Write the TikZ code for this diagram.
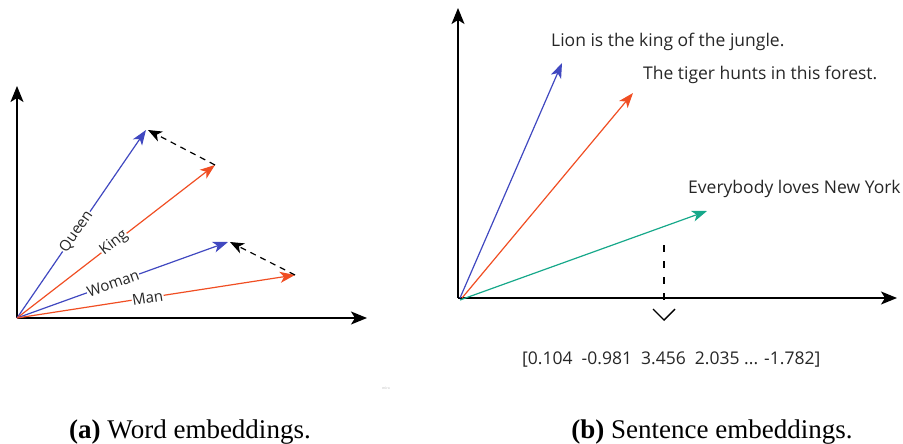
\documentclass[tikz,border=0pt]{standalone}
\usepackage{fontspec}
\setmainfont{Open Sans}
\newfontfamily\capfont{Liberation Serif}
\usetikzlibrary{arrows.meta}
\definecolor{vecblue}{RGB}{64,72,192}
\definecolor{vecred}{RGB}{240,78,35}
\definecolor{vecgreen}{RGB}{22,168,138}
\tikzset{
  axis/.style={line width=1.6pt,-{Stealth[length=16pt,width=13pt,inset=4pt]}},
  vec/.style={line width=1.2pt,-{Stealth[length=15pt,width=11pt,inset=4pt]}},
  diff/.style={line width=1.2pt,dash pattern=on 6pt off 5pt,-{Stealth[length=14pt,width=11pt,inset=4pt]}},
  wordlabel/.style={sloped,fill=white,inner sep=0.6pt,font=\fontsize{15}{15}\selectfont,text=black!85},
  sentence/.style={font=\fontsize{17.5}{18}\selectfont,text=black!85,inner sep=0pt},
  caption/.style={font=\capfont\fontsize{27}{27}\selectfont,inner sep=0pt}
}
\begin{document}
\begin{tikzpicture}[x=1pt,y=-1pt]
\useasboundingbox (0,0) rectangle (903,444);

% ---------- (a) word embeddings ----------
\coordinate (oa) at (17,318);
\coordinate (ya) at (17,86);
\coordinate (xa) at (367,318);
\coordinate (queen) at (146,130);
\coordinate (king) at (215,165);
\coordinate (woman) at (228,242);
\coordinate (man) at (295,275);

\draw[axis] (oa) -- (ya);
\draw[axis] (oa) -- (xa);

\draw[vec,vecblue] (oa) -- node[wordlabel,pos=0.46] (lqueen) {Queen} (queen);
\draw[vec,vecred] (oa) -- node[wordlabel,pos=0.49] (lking) {King} (king);
\draw[vec,vecblue] (oa) -- node[wordlabel,pos=0.455] (lwoman) {Woman} (woman);
\draw[vec,vecred] (oa) -- node[wordlabel,pos=0.47] (lman) {Man} (man);

\draw[diff] (king) -- ([xshift=2pt]queen);
\draw[diff] (man) -- ([xshift=2pt]woman);

\node[font=\sffamily\fontsize{4}{4}\selectfont,text=black!25] (wm) at (386,388) {miro};

% ---------- (b) sentence embeddings ----------
\coordinate (ob) at (458,298);
\coordinate (yb) at (458,8);
\coordinate (xb) at (897,298);
\coordinate (lion) at (562,63);
\coordinate (tiger) at (633,93);
\coordinate (york) at (707,211);

\draw[axis] (ob) -- (yb);
\draw[axis] (ob) -- (xb);

\draw[vec,vecblue] ([xshift=2pt]ob) -- (lion);
\draw[vec,vecred] ([xshift=4pt]ob) -- (tiger);
\draw[vec,vecgreen] ([xshift=2pt,yshift=-2pt]ob) -- (york);

\node[sentence,anchor=base west] (tlion) at (551,47) {Lion is the king of the jungle.};
\node[sentence,anchor=base west] (ttiger) at (643,80) {The tiger hunts in this forest.};
\node[sentence,anchor=base west] (tyork) at (688,193) {Everybody loves New York};

\coordinate (ptop) at (664,245);
\coordinate (ptip) at (664,321);
\draw[line width=1.2pt,dash pattern=on 7pt off 9pt on 7pt off 9pt on 7pt off 9pt on 7pt off 40pt,
      -{Straight Barb[length=11pt,width=22pt,line width=1.4pt]}] (ptop) -- (ptip);

\node[sentence,anchor=base west] (emb) at (522,364) {[0.104\ \ -0.981\ \ 3.456\ \ 2.035 ... -1.782]};

% ---------- captions ----------
\node[caption,anchor=base] (capa) at (190,438) {\textbf{(a)} Word embeddings.};
\node[caption,anchor=base] (capb) at (712,438) {\textbf{(b)} Sentence embeddings.};
\end{tikzpicture}
\end{document}
